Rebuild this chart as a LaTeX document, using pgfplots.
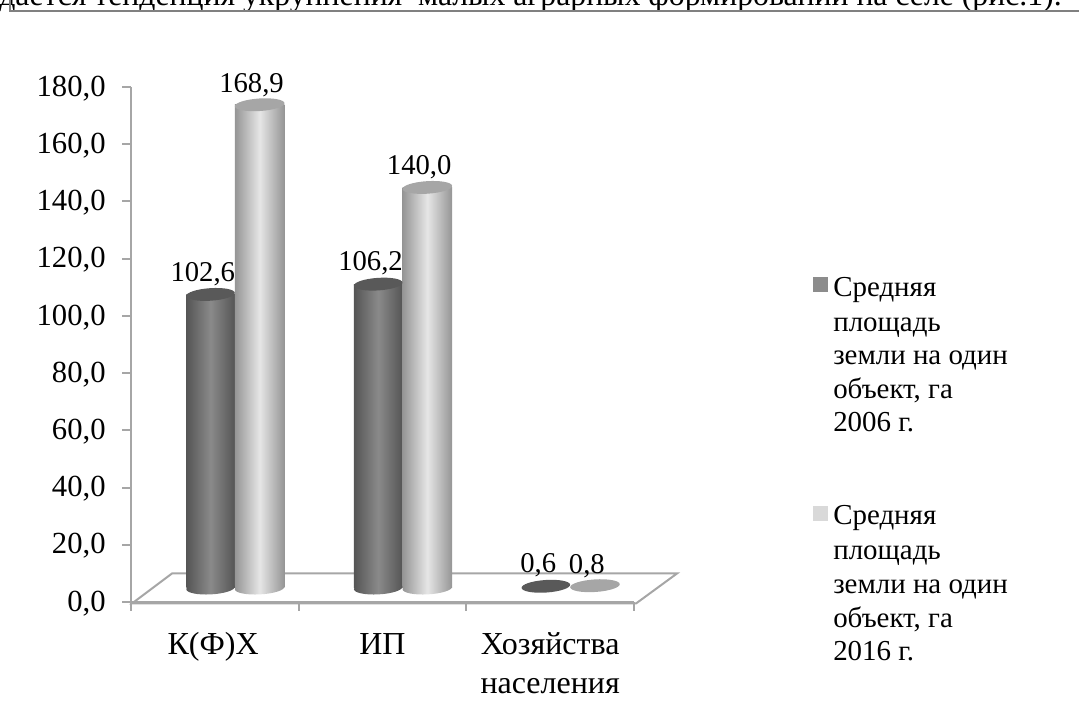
\documentclass[border=0pt]{standalone}
\usepackage{pgfplots}
\pgfplotsset{compat=1.18}
\usepackage{pgfplotstable}
\usepackage{fontspec}
\usetikzlibrary{shapes.geometric}
\setmainfont{Liberation Serif}
\definecolor{ln}{HTML}{A6A6A6}
\definecolor{dkE}{HTML}{555555}
\definecolor{dkM}{HTML}{8A8A8A}
\definecolor{ltE}{HTML}{959595}
\definecolor{ltM}{HTML}{E6E6E6}
\pgfdeclareplotmark{dktop}{\pgfsetfillcolor{black!65}\pgfpathellipse{\pgfpointorigin}{\pgfqpoint{18.2pt}{1.2pt}}{\pgfqpoint{-0.3pt}{4.7pt}}\pgfusepathqfill}
\pgfdeclareplotmark{lttop}{\pgfsetfillcolor{black!35}\pgfpathellipse{\pgfpointorigin}{\pgfqpoint{18.6pt}{1.2pt}}{\pgfqpoint{-0.3pt}{4.7pt}}\pgfusepathqfill}
\pgfplotstableread{
x y
0 102.6
1 106.2
2 0.6
}\dark
\pgfplotstableread{
x y
0 168.9
1 140.0
2 0.8
}\light
\begin{document}
\begin{tikzpicture}[x=0.75pt,y=0.75pt]
\clip (0,0) rectangle (1079,717);
\path[use as bounding box] (0,0) rectangle (1079,717);
% running text and chart frame
\node[anchor=base west,inner sep=0pt,font=\fontsize{23.8pt}{24pt}\selectfont] at (-1,711) {дается тенденция укрупнения\ \ малых аграрных формирований на селе (рис.1).};
\draw[color=black!50,line width=1.5pt] (9.5,717) -- (9.5,705.5) -- (1079,705.5);
% floor
\draw[ln,line width=1.5pt] (132,113.5) -- (172,143.5) -- (677,143.5) -- (636,113.5) -- cycle;
% frame axis
\begin{axis}[
  at={(98.25pt,86.25pt)},anchor=south west,
  scale only axis,width=377.25pt,height=386.25pt,
  xmin=-0.5,xmax=2.5,ymin=0,ymax=180,
  axis x line*=bottom,axis y line*=left,
  axis line style={ln,line width=1.5pt,-},
  tick style={ln,line width=1.5pt},
  tick align=outside,major tick length=6.5pt,
  ytick={0,20,...,180},
  xtick={-0.5,0.5,1.5,2.5},xticklabels={},
  extra x ticks={-0.01,1.0,2.0},
  extra x tick labels={К(Ф)Х\strut,ИП\strut,{\strut Хозяйства\\населения\strut}},
  extra x tick style={major tick length=0pt,tick style={draw=none},
    xticklabel style={align=center,anchor=north,yshift=-15.5pt,font=\fontsize{24pt}{29pt}\selectfont,text=black}},
  yticklabel style={font=\fontsize{23pt}{24pt}\selectfont,text=black,xshift=-9pt,yshift=-1pt},
  /pgf/number format/.cd,use comma,fixed,fixed zerofill,precision=1,assume math mode=true,
]
\end{axis}
% bars axis: same scales, shifted onto the floor as in the 3-D view
\begin{axis}[
  at={(113.25pt,96.75pt)},anchor=south west,
  scale only axis,width=377.25pt,height=386.25pt,
  xmin=-0.5,xmax=2.5,ymin=0,ymax=180,
  hide axis,clip=false,
  /pgf/number format/.cd,use comma,fixed,fixed zerofill,precision=1,assume math mode=true,
  /pgfplots/every node near coord/.append style={font=\fontsize{21.5pt}{24pt}\selectfont,anchor=center,text=black},
]
% dark series
\addplot[ybar,bar width=36.4pt,bar shift=-18.2pt,draw=none,left color=dkE,right color=dkE,middle color=dkM] coordinates {(0,102.6)};
\addplot[ybar,bar width=36.4pt,bar shift=-18.2pt,draw=none,left color=dkE,right color=dkE,middle color=dkM] coordinates {(1,106.2)};
\addplot[draw=none,mark=none,nodes near coords={},every node near coord/.append style={shape=ellipse,inner sep=0pt,minimum width=36.4pt,minimum height=9.6pt,rotate=3,left color=dkE,right color=dkE,middle color=dkM}] coordinates {(-0.145,0) (0.855,0)};
\addplot[only marks,mark=dktop] coordinates {(-0.145,102.6) (0.855,106.2) (1.855,0.6)};
% light series
\addplot[ybar,bar width=37.2pt,bar shift=18.6pt,draw=none,left color=ltE,right color=ltE,middle color=ltM] coordinates {(0,168.9)};
\addplot[ybar,bar width=37.2pt,bar shift=18.6pt,draw=none,left color=ltE,right color=ltE,middle color=ltM] coordinates {(1,140.0)};
\addplot[draw=none,mark=none,nodes near coords={},every node near coord/.append style={shape=ellipse,inner sep=0pt,minimum width=37.2pt,minimum height=9.6pt,rotate=3,left color=ltE,right color=ltE,middle color=ltM}] coordinates {(0.148,0) (1.148,0)};
\addplot[only marks,mark=lttop] coordinates {(0.148,168.9) (1.148,140.0) (2.148,0.8)};
% data labels
\addplot[draw=none,mark=none,nodes near coords,xshift=-24pt,
  every node near coord/.append style={yshift=15.5pt}] table[x=x,y=y] {\dark};
\addplot[draw=none,mark=none,nodes near coords,xshift=12.5pt,
  every node near coord/.append style={yshift=15pt}] table[x=x,y=y] {\light};
\end{axis}
% legend
\fill[fill=black!45] (813,425) rectangle (828,440);
\fill[fill=black!15] (813,196) rectangle (828,211);
\foreach \t/\yy in {Средняя/428.5,площадь/393.5,земли на один/360,{объект, га}/326.5,2006 г./293}
  \node[anchor=base west,inner sep=0pt,font=\fontsize{21.7pt}{22pt}\selectfont] at (833,\yy-8) {\t};
\foreach \t/\yy in {Средняя/200,площадь/165,земли на один/131,{объект, га}/97,2016 г./64}
  \node[anchor=base west,inner sep=0pt,font=\fontsize{21.7pt}{22pt}\selectfont] at (833,\yy-8) {\t};
\end{tikzpicture}
\end{document}
